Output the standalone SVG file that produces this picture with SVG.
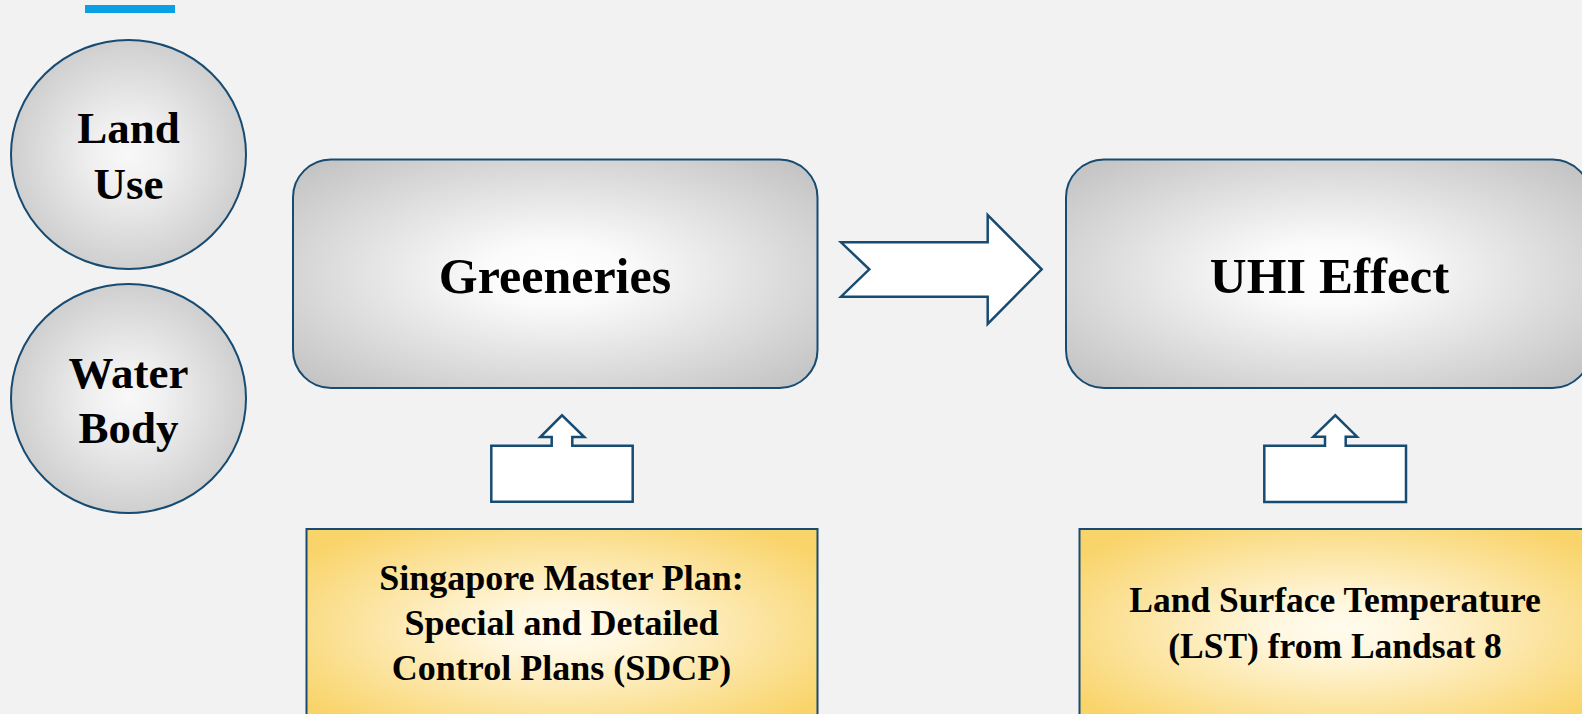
<svg xmlns="http://www.w3.org/2000/svg" width="1582" height="714" viewBox="0 0 1582 714">
<style>
.lbl{font-family:"Liberation Serif","Times New Roman",serif;font-weight:bold;fill:#000;text-anchor:middle}
.gray{fill:url(#gg);stroke:#174b72;stroke-width:2}
.yel{fill:url(#yg);stroke:#174b72;stroke-width:2}
.arw{fill:#fff;stroke:#174b72;stroke-width:2.5;stroke-linejoin:miter}
</style>
<defs>
<radialGradient id="gg" cx="0.5" cy="0.5" r="0.66">
<stop offset="0" stop-color="#ffffff"/>
<stop offset="0.2" stop-color="#fbfbfb"/>
<stop offset="1" stop-color="#c4c4c4"/>
</radialGradient>
<radialGradient id="cg" cx="0.5" cy="0.5" r="0.5">
<stop offset="0" stop-color="#f8f8f8"/>
<stop offset="0.3" stop-color="#f0f0f0"/>
<stop offset="1" stop-color="#cfcfcf"/>
</radialGradient>
<radialGradient id="yg" cx="0.5" cy="0.5" r="0.62">
<stop offset="0" stop-color="#fffbee"/>
<stop offset="0.2" stop-color="#fff7e0"/>
<stop offset="1" stop-color="#f9d46a"/>
</radialGradient>
</defs>
<rect x="0" y="0" width="1582" height="714" fill="#f2f2f2"/>
<rect x="85" y="5" width="90" height="8" fill="#0aa0e6"/>

<g id="node-landuse">
<ellipse cx="128.5" cy="154.5" rx="117.5" ry="114.5" fill="url(#cg)" stroke="#174b72" stroke-width="2"/>
<text class="lbl" x="128.5" y="143" font-size="45">Land</text>
<text class="lbl" x="128.5" y="199" font-size="45">Use</text>
</g>
<g id="node-waterbody">
<ellipse cx="128.5" cy="398.5" rx="117.5" ry="114.5" fill="url(#cg)" stroke="#174b72" stroke-width="2"/>
<text class="lbl" x="128.5" y="388" font-size="45">Water</text>
<text class="lbl" x="128.5" y="443" font-size="45">Body</text>
</g>
<g id="node-greeneries">
<rect class="gray" x="293" y="159.5" width="524.5" height="228.5" rx="38" ry="38"/>
<text class="lbl" x="555" y="293" font-size="50">Greeneries</text>
</g>
<g id="node-uhi">
<rect class="gray" x="1066" y="159.5" width="524.5" height="228.5" rx="38" ry="38"/>
<text class="lbl" x="1329.5" y="293" font-size="51">UHI Effect</text>
</g>
<g id="node-sdcp">
<rect class="yel" x="306.5" y="529" width="511" height="200"/>
<text class="lbl" x="561.5" y="590" font-size="36">Singapore Master Plan:</text>
<text class="lbl" x="561.5" y="635" font-size="36">Special and Detailed</text>
<text class="lbl" x="561.5" y="680" font-size="36">Control Plans (SDCP)</text>
</g>
<g id="node-lst">
<rect class="yel" x="1079.5" y="529" width="520" height="200"/>
<text class="lbl" x="1335" y="612" font-size="35.5">Land Surface Temperature</text>
<text class="lbl" x="1335" y="658" font-size="35.5">(LST) from Landsat 8</text>
</g>
<g id="connectors">
<polygon class="arw" points="841,242.3 987.7,242.3 987.7,215 1041.7,269.3 987.7,324 987.7,296.7 841,296.7 869.3,269.3"/>
<polygon class="arw" points="491.3,445.7 551.7,445.7 551.7,437 540.3,437 562,415.3 584.3,437 572.3,437 572.3,445.7 632.7,445.7 632.7,501.7 491.3,501.7"/>
<polygon class="arw" points="1264.3,445.7 1325,445.7 1325,436.7 1313.3,436.7 1335.3,415.3 1357,436.7 1345.7,436.7 1345.7,445.7 1406,445.7 1406,502 1264.3,502"/>
</g>
</svg>
